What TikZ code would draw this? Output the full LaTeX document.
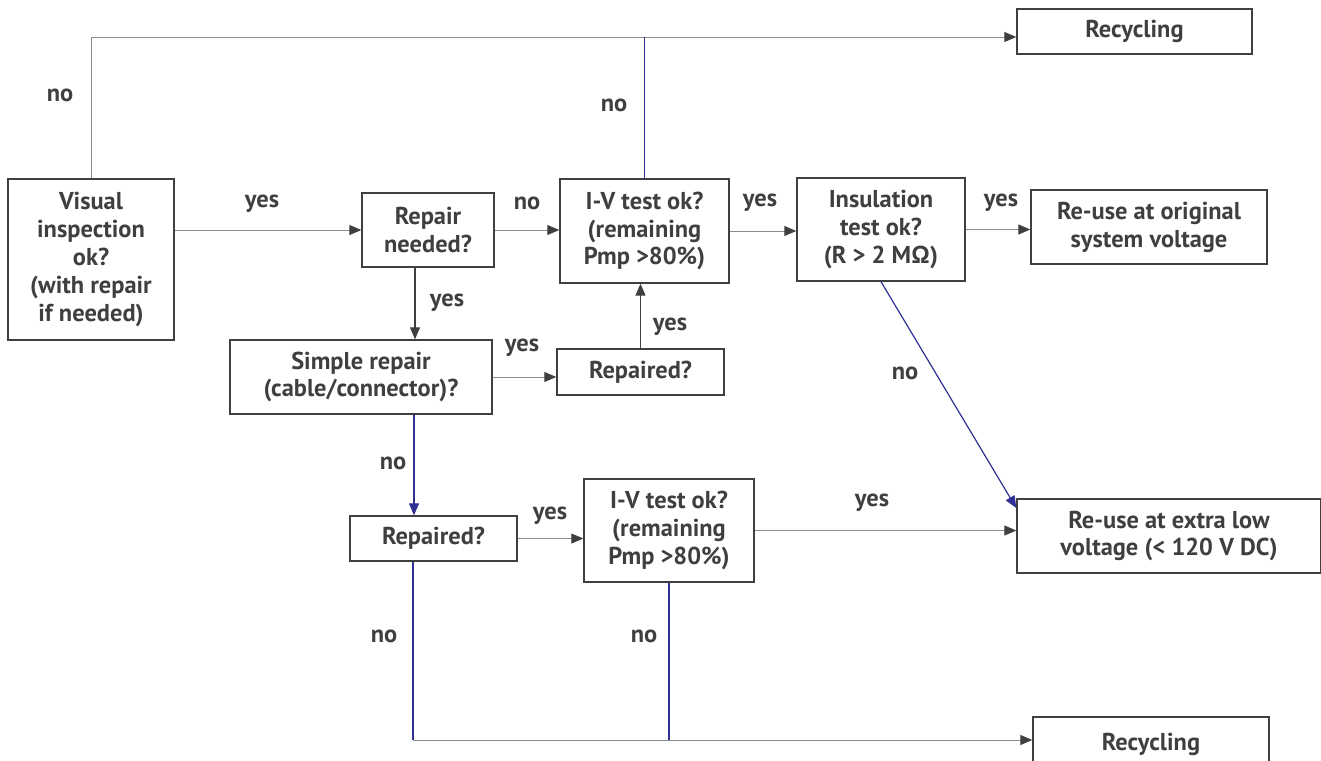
\documentclass[tikz,border=0pt]{standalone}
\usepackage{fontspec}
\setmainfont{PT Sans}
\usetikzlibrary{arrows.meta}
\definecolor{inkgray}{HTML}{3F3F3F}
\definecolor{wiregray}{HTML}{8C8C8C}
\definecolor{wireblue}{HTML}{2E3192}
\tikzset{
  box/.style={draw=inkgray,line width=1.4bp,text=inkgray,align=center,inner sep=0pt,
    font=\fontsize{24.5}{28}\selectfont\bfseries},
  lbl/.style={text=inkgray,inner sep=0pt,font=\fontsize{24.5}{28}\selectfont\bfseries},
  flow/.style={draw=wiregray,line width=0.9bp,-{Triangle[length=12bp,width=10bp,color=inkgray]}},
  darkflow/.style={draw=inkgray,line width=1.2bp,-{Triangle[length=12bp,width=10bp]}},
  blueflow/.style={draw=wireblue,line width=1.2bp,-{Triangle[length=12bp,width=10bp]}},
  blueline/.style={draw=wireblue,line width=1.2bp},
  grayline/.style={draw=wiregray,line width=0.9bp}
}
\begin{document}
\begin{tikzpicture}[x=1bp,y=-1bp]
\useasboundingbox (0,0) rectangle (1321,760);

\node (visual) at (91,259.5)[box,minimum width=166bp,minimum height=161bp] {Visual\\inspection\\ok?\\(with repair\\if needed)};
\node (repair) at (428,230)[box,minimum width=132bp,minimum height=74bp] {Repair\\needed?};
\node (ivtest) at (644.5,231)[box,minimum width=169bp,minimum height=104bp] {I-V test ok?\\(remaining\\Pmp >80\%)};
\node (insul) at (881,229.5)[box,minimum width=168bp,minimum height=103bp] {Insulation\\test ok?\\(R > 2 MΩ)};
\node (reorig) at (1149,227)[box,minimum width=236bp,minimum height=74bp] {Re-use at original\\system voltage};
\node (recyctop) at (1134.5,31.5)[box,minimum width=235bp,minimum height=45bp] {Recycling};
\node (simple) at (361,377)[box,minimum width=262bp,minimum height=74bp] {Simple repair\\(cable/connector)?};
\node (repaired1) at (640.5,372)[box,minimum width=167bp,minimum height=46bp] {Repaired?};
\node (repaired2) at (433.5,538.5)[box,minimum width=167bp,minimum height=45bp] {Repaired?};
\node (ivtest2) at (669,530.5)[box,minimum width=170bp,minimum height=103bp] {I-V test ok?\\(remaining\\Pmp >80\%)};
\node (relow) at (1169,536)[box,minimum width=304bp,minimum height=74bp] {Re-use at extra low\\voltage (< 120 V DC)};
\node (recycbot) at (1151,744.5)[box,minimum width=236bp,minimum height=55bp] {Recycling};

% bends
\coordinate (topline) at (91,37);
\coordinate (botline) at (413,740);

% top route to recycling
\draw [grayline] (visual.north) -- (topline);
\draw [flow] (topline) -- (topline -| recyctop.west);
\draw [blueline] (ivtest.north) -- (ivtest.north |- topline);

% main row
\draw [flow] (repair.west -| visual.east) -- (repair.west);
\draw [flow] (repair.east) -- (repair.east -| ivtest.west);
\draw [flow] (ivtest.east) -- (ivtest.east -| insul.west);
\draw [flow] (insul.east) -- (insul.east -| reorig.west);

% repair branch
\draw [darkflow] (repair.south -| 415,0) -- (simple.north -| 415,0);
\draw [flow] (simple.east) -- (simple.east -| repaired1.west);
\draw [darkflow] (repaired1.north) -- (repaired1.north |- ivtest.south);
\draw [blueflow] (insul.south) -- (relow.west |- 0,508);
\draw [blueflow] (simple.south -| 414,0) -- (repaired2.north -| 414,0);
\draw [flow] (repaired2.east) -- (repaired2.east -| ivtest2.west);
\draw [flow] (ivtest2.east) -- (ivtest2.east -| relow.west);

% bottom route to recycling
\draw [blueline] (repaired2.south -| botline) -- (botline);
\draw [blueline] (ivtest2.south) -- (ivtest2.south |- botline);
\draw [flow] (botline) -- (botline -| recycbot.west);

% labels
\node (l1) at (60,95)[lbl] {no};
\node (l2) at (614,105)[lbl] {no};
\node (l3) at (262,204)[lbl] {yes};
\node (l4) at (527,203)[lbl] {no};
\node (l5) at (760,203)[lbl] {yes};
\node (l6) at (1001,203)[lbl] {yes};
\node (l7) at (447,303)[lbl] {yes};
\node (l8) at (522,348)[lbl] {yes};
\node (l9) at (670,327)[lbl] {yes};
\node (l10) at (905,373)[lbl] {no};
\node (l11) at (393,463)[lbl] {no};
\node (l12) at (550,516)[lbl] {yes};
\node (l13) at (872,503)[lbl] {yes};
\node (l14) at (384,636)[lbl] {no};
\node (l15) at (644,636)[lbl] {no};
\end{tikzpicture}
\end{document}
